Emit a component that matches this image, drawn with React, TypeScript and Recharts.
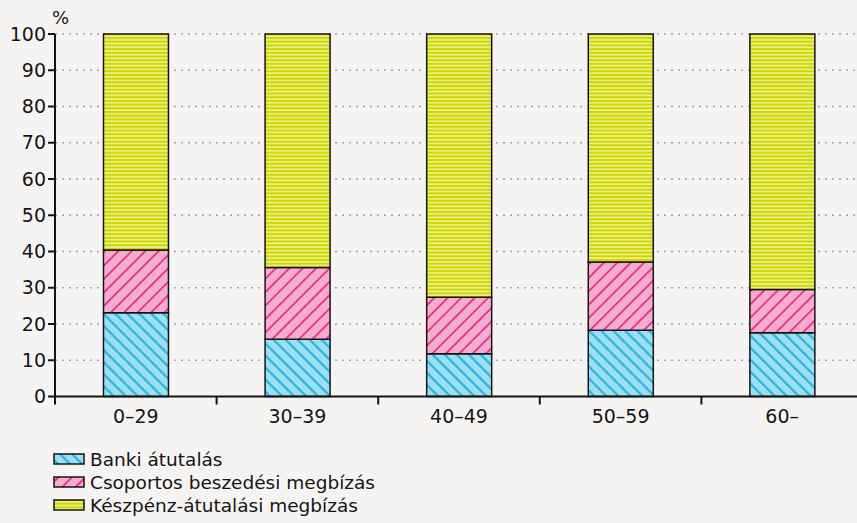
import React from 'react'
import { BarChart, Bar, XAxis, YAxis, CartesianGrid } from 'recharts'

const categories = ['0–29', '30–39', '40–49', '50–59', '60–']
const banki = [23.1, 15.8, 11.8, 18.3, 17.6]
const csoportos = [17.3, 19.8, 15.6, 18.8, 11.9]
const keszpenz = [59.6, 64.4, 72.6, 62.9, 70.5]
const yTicks = [0, 10, 20, 30, 40, 50, 60, 70, 80, 90, 100]

const series = [
  { key: 'banki', name: 'Banki átutalás', pattern: 'pat-blue' },
  { key: 'csoportos', name: 'Csoportos beszedési megbízás', pattern: 'pat-pink' },
  { key: 'keszpenz', name: 'Készpénz-átutalási megbízás', pattern: 'pat-yellow' },
]

const data = categories.map((name, i) => ({
  name,
  banki: banki[i],
  csoportos: csoportos[i],
  keszpenz: keszpenz[i],
}))

const FONT = '"DejaVu Sans", sans-serif'
const INK = '#151515'
const BG = '#f5f4f2'

const CHART_W = 875
const Y_AXIS_W = 55
const MARGIN_RIGHT = 12
const band = (CHART_W - Y_AXIS_W - MARGIN_RIGHT) / categories.length

function Patterns() {
  return (
    <defs>
      <pattern id="pat-blue" patternUnits="userSpaceOnUse" width="8.5" height="8.5" patternTransform="rotate(45)">
        <rect width="8.5" height="8.5" fill="#9cdff3" />
        <line x1="0" y1="4.25" x2="8.5" y2="4.25" stroke="#12a9da" strokeWidth="1.8" />
      </pattern>
      <pattern id="pat-pink" patternUnits="userSpaceOnUse" width="9.5" height="9.5" patternTransform="rotate(-45)">
        <rect width="9.5" height="9.5" fill="#f6abd0" />
        <line x1="0" y1="4.75" x2="9.5" y2="4.75" stroke="#e4327e" strokeWidth="1.8" />
      </pattern>
      <pattern id="pat-yellow" patternUnits="userSpaceOnUse" width="8" height="3.7">
        <rect width="8" height="3.7" fill="#eef08c" />
        <rect width="8" height="2" fill="#ccd700" />
      </pattern>
    </defs>
  )
}

const XTick = ({ x, y, payload }: any) => (
  <g>
    <line x1={x - band / 2} y1={y} x2={x - band / 2} y2={y + 8} stroke={INK} strokeWidth={2} />
    <text x={x} y={y + 26} textAnchor="middle" fontFamily={FONT} fontSize={19} fill={INK}>
      {payload.value}
    </text>
  </g>
)

export default function App() {
  return (
    <div
      style={{
        position: 'absolute',
        left: 0,
        top: 0,
        width: 857,
        height: 523,
        overflow: 'hidden',
        background: BG,
        fontFamily: FONT,
      }}
    >
      <div style={{ position: 'absolute', left: 52, top: 7, fontSize: 18, color: INK }}>%</div>
      <BarChart
        width={CHART_W}
        height={523}
        data={data}
        margin={{ top: 34, right: MARGIN_RIGHT, left: 0, bottom: 96.5 }}
        barCategoryGap="30%"
      >
        <Patterns />
        <CartesianGrid
          vertical={false}
          stroke="#a3a3a3"
          strokeWidth={1.5}
          strokeDasharray="2 5"
          horizontalValues={yTicks.slice(1)}
        />
        <XAxis
          dataKey="name"
          height={30}
          tickLine={false}
          tickSize={0}
          tickMargin={0}
          axisLine={{ stroke: INK, strokeWidth: 2 }}
          tick={<XTick />}
          interval={0}
        />
        <YAxis
          width={Y_AXIS_W}
          domain={[0, 100]}
          ticks={yTicks}
          interval={0}
          tickSize={7}
          tickMargin={2}
          axisLine={{ stroke: INK, strokeWidth: 2 }}
          tickLine={{ stroke: INK, strokeWidth: 2 }}
          tick={{ fontFamily: FONT, fontSize: 19, fill: INK }}
        />
        {series.map((s) => (
          <Bar
            key={s.key}
            dataKey={s.key}
            name={s.name}
            stackId="a"
            fill={`url(#${s.pattern})`}
            stroke={INK}
            strokeWidth={1.5}
            isAnimationActive={false}
          />
        ))}
      </BarChart>
      <div style={{ position: 'absolute', left: 53, top: 448 }}>
        {series.map((s) => (
          <div key={s.key} style={{ display: 'flex', alignItems: 'center', height: 23 }}>
            <svg width={33} height={13} style={{ marginRight: 4 }}>
              <rect x={1} y={1} width={30} height={10} fill={`url(#${s.pattern})`} stroke={INK} strokeWidth={1.5} />
            </svg>
            <span style={{ fontSize: 18.5, color: INK, lineHeight: '23px' }}>{s.name}</span>
          </div>
        ))}
      </div>
    </div>
  )
}
